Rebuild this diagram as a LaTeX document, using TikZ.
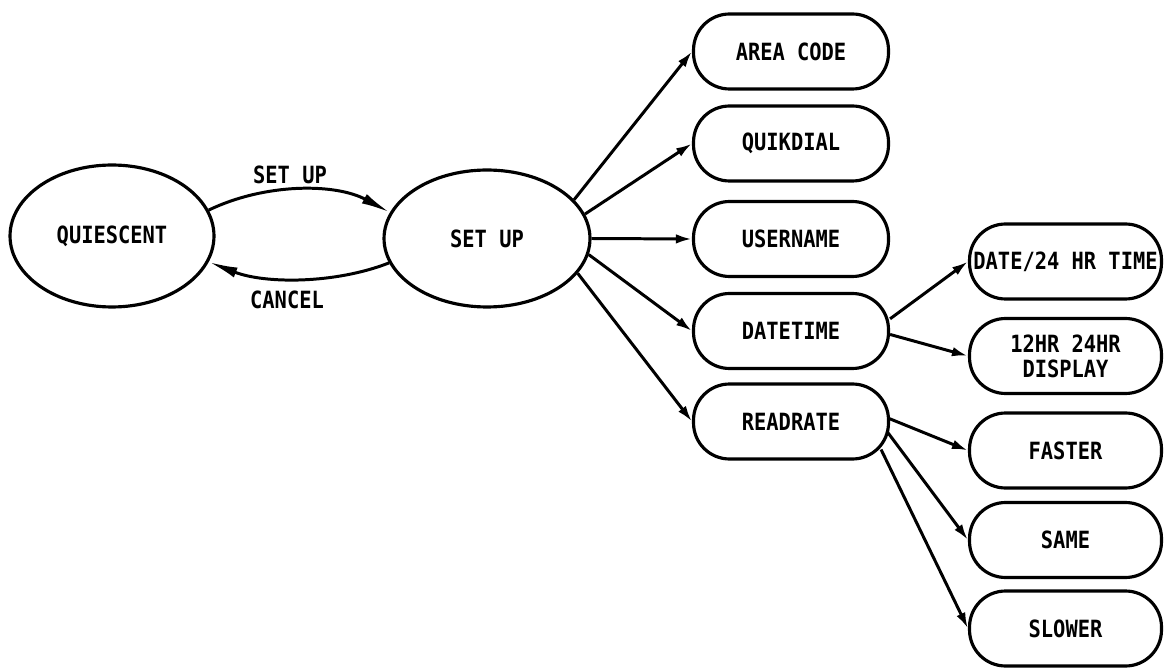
\documentclass[tikz,border=0pt]{standalone}
\usepackage{fontspec}
\newfontfamily\plotfont[FakeStretch=0.86]{DejaVu Sans Mono}
\usetikzlibrary{shapes.geometric, arrows.meta}

\begin{document}
\begin{tikzpicture}[x=0.02cm, y=-0.02cm,
		every node/.style={font=\plotfont\bfseries\fontsize{13.5}{14.2}\selectfont},
		statenode/.style={draw, ellipse, line width=1.8pt, inner sep=0pt},
		menubox/.style={draw, rectangle, rounded corners=0.72cm, line width=1.8pt, minimum width=3.9cm, minimum height=1.5cm, inner sep=0pt, align=center},
		branch/.style={line width=1.7pt, -{Latex[length=0.32cm, width=0.19cm]}},
		modeline/.style={line width=1.7pt, -{Latex[length=0.58cm, width=0.21cm]}}]
		\useasboundingbox (0,0) rectangle (1165,668);
		\node[statenode, minimum width=4.08cm, minimum height=2.84cm] (quiescent) at (112,236) {QUIESCENT};
		\node[statenode, minimum width=4.12cm, minimum height=2.74cm] (setup) at (487,238.5) {SET UP};
		\node (setuplabel) at (290,175) {SET UP};
		\node (cancellabel) at (287,300) {CANCEL};
		\draw[modeline] (quiescent.15) .. controls (265,183) and (335,183) .. (setup.165);
		\draw[modeline] (setup.194) .. controls (335,284) and (265,284) .. (quiescent.-15);
		\node[menubox] (areacode) at (791,51.5) {AREA CODE};
		\node[menubox] (quikdial) at (791,143.5) {QUIKDIAL};
		\node[menubox] (username) at (791,239) {USERNAME};
		\node[menubox] (datetime) at (791,331) {DATETIME};
		\node[menubox] (readrate) at (791,421.5) {READRATE};
		\node[menubox, minimum width=3.84cm] (clock) at (1065.5,261.5) {DATE/24 HR TIME};
		\node[menubox, minimum width=3.84cm] (display) at (1065.5,356) {12HR 24HR\\DISPLAY};
		\node[menubox, minimum width=3.84cm] (faster) at (1065.5,450.5) {FASTER};
		\node[menubox, minimum width=3.84cm] (same) at (1065.5,540) {SAME};
		\node[menubox, minimum width=3.84cm] (slower) at (1065.5,628.5) {SLOWER};
		\draw[branch] (setup.24) -- (areacode.west);
		\draw[branch] (setup.14) -- (quikdial.west);
		\draw[branch] (setup.east) -- (username.west);
		\draw[branch] (setup.-9) -- (datetime.west);
		\draw[branch] (setup.-21) -- (readrate.west);
		\draw[branch] (datetime.7) -- (clock.west);
		\draw[branch] (datetime.-2) -- (display.west);
		\draw[branch] ([shift={(-1,-3)}]readrate.east) -- (faster.west);
		\draw[branch] ([shift={(-3,10)}]readrate.east) -- (same.west);
		\draw[branch] ([shift={(-9,28)}]readrate.east) -- (slower.west);
	\end{tikzpicture}
\end{document}
